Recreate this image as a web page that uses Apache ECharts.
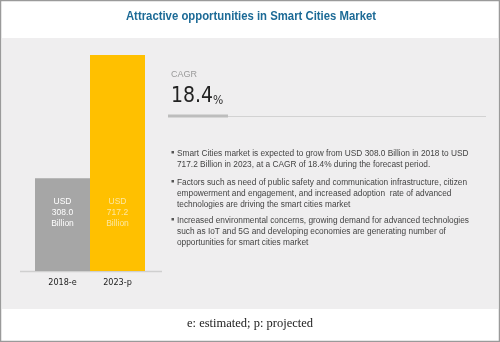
<!DOCTYPE html>
<html><head><meta charset="utf-8">
<script src="https://cdn.jsdelivr.net/npm/echarts@6/dist/echarts.min.js"></script>
<style>html,body{margin:0;padding:0;background:#fff}#c{width:500px;height:342px}</style>
</head><body><div id="c"></div>
<script>
const categories = ['2018-e', '2023-p'];
const values = [308.0, 717.2];
const barLabels = ['USD\n308.0\nBillion', 'USD\n717.2\nBillion'];
const cagr = '18.4';
const bullets = [
  'Smart Cities market is expected to grow from USD 308.0 Billion in 2018 to USD\n717.2 Billion in 2023, at a CAGR of 18.4% during the forecast period.',
  'Factors such as need of public safety and communication infrastructure, citizen\nempowerment and engagement, and increased adoption  rate of advanced\ntechnologies are driving the smart cities market',
  'Increased environmental concerns, growing demand for advanced technologies\nsuch as IoT and 5G and developing economies are generating number of\nopportunities for smart cities market'
];
const title = 'Attractive opportunities in Smart Cities Market';
const footnote = 'e: estimated; p: projected';

const barColors = ['#a6a6a6', '#ffc000'];
const labelColors = ['#ffffff', '#fde7a0'];

const chart = echarts.init(document.getElementById('c'));
const bulletY = [148, 177, 215];
const graphics = [
  {type:'rect', shape:{x:0.5,y:0.5,width:499,height:341}, style:{fill:'none', stroke:'#9a9a9a', lineWidth:1.5}, z:-1},
  {type:'rect', shape:{x:2,y:38,width:496,height:271}, style:{fill:'#efeeef'}, z:-2},
  {type:'text', x:251, y:16, scaleX:0.84, style:{text:title, x:0, y:0, align:'center', verticalAlign:'middle', font:'bold 13.5px Arial, "Liberation Sans"', fill:'#1c6a96'}},
  {type:'line', shape:{x1:20,y1:271.5,x2:162,y2:271.5}, style:{stroke:'#cfcfcf', lineWidth:1.5}},
  {type:'text', left:171, top:70, style:{text:'CAGR', font:'9px Arial', fill:'#9a9a9a'}},
  {type:'text', left:171, top:86, style:{text:'{a|'+cagr+'}{b|%}', rich:{a:{font:'21px "DejaVu Sans Condensed", Arial', fill:'#222'}, b:{font:'12px "DejaVu Sans Condensed", Arial', fill:'#333', verticalAlign:'bottom', padding:[6,0,0,0]}}}},
  {type:'line', shape:{x1:168,y1:116.5,x2:486,y2:116.5}, style:{stroke:'#d2d2d2', lineWidth:1}},
  {type:'line', shape:{x1:168,y1:116,x2:228,y2:116}, style:{stroke:'#bdbdbd', lineWidth:3}},
  {type:'text', x:250, y:324, style:{text:footnote, x:0, y:0, align:'center', verticalAlign:'middle', font:'12.5px "Liberation Serif", "Times New Roman", serif', fill:'#222'}}
];
bullets.forEach((b, i) => {
  graphics.push({type:'rect', shape:{x:171.5, y:bulletY[i]+3, width:2.5, height:2.5}, style:{fill:'#555'}});
  graphics.push({type:'text', left:177, top:bulletY[i], style:{text:b, font:'8.3px Arial', fill:'#444', lineHeight:11}});
});

chart.setOption({
  animation:false,
  grid:{left:35, right:355, top:55, bottom:71, containLabel:false},
  xAxis:{type:'category', data:categories, axisLine:{show:false}, axisTick:{show:false},
    axisLabel:{color:'#222', fontSize:9, fontFamily:'"DejaVu Sans Condensed", Arial', margin:7}},
  yAxis:{type:'value', min:0, max:'dataMax', show:false, splitLine:{show:false}},
  series:[{type:'bar', barCategoryGap:'0%', barWidth:'100%',
    data:values.map((v,i)=>({value:v, itemStyle:{color:barColors[i]}, label:{show:true, position:'insideBottom', distance:42, formatter:barLabels[i], color:labelColors[i], fontSize:8.5, lineHeight:11, fontFamily:'Arial', align:'center'}})),
  }],
  graphic:graphics
});
</script></body></html>
